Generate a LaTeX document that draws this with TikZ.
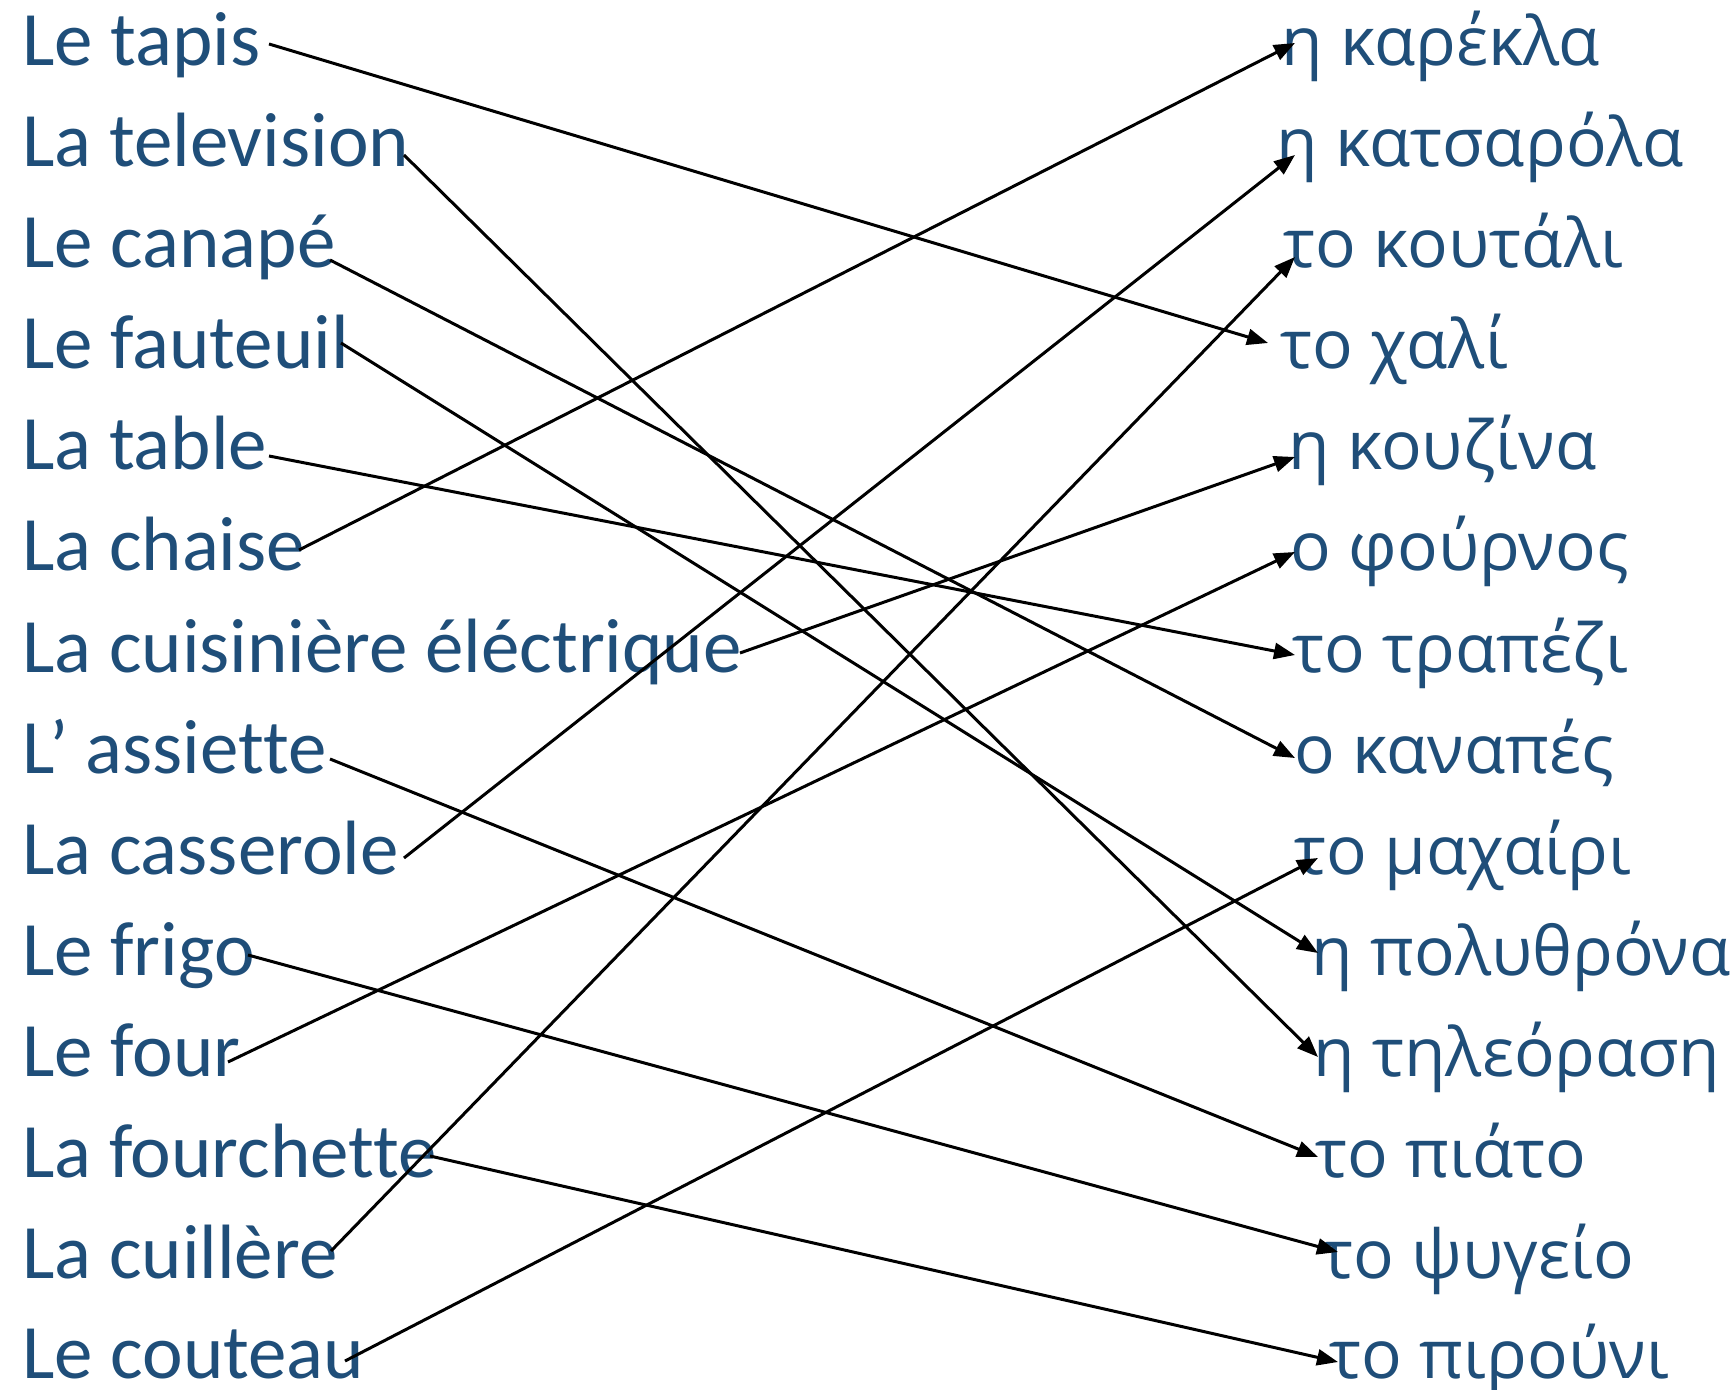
\documentclass[tikz,border=0pt]{standalone}
\usepackage{fontspec}
\setmainfont{Carlito}[Ligatures=NoCommon]
\newfontfamily\grk{Open Sans}
\usetikzlibrary{arrows.meta}
\definecolor{txtblue}{RGB}{31,78,121}
\begin{document}
\begin{tikzpicture}[x=0.5pt,y=-0.5pt,
  fr/.style={anchor=base west,inner sep=0pt,text=txtblue,font=\fontsize{38.5pt}{40pt}\selectfont},
  gr/.style={anchor=base west,inner sep=0pt,text=txtblue,font=\grk\fontsize{33.8pt}{40pt}\selectfont},
  arr/.style={draw=black,line width=1.5pt,-{Triangle[length=10.5pt,width=8pt]}}]
\useasboundingbox (0,0) rectangle (1736,1390);
% left column
\node[fr] (l1)  at (22,66)   {Le tapis};
\node[fr] (l2)  at (22,167)  {La television};
\node[fr] (l3)  at (22,268)  {Le canapé};
\node[fr] (l4)  at (22,369)  {Le fauteuil};
\node[fr] (l5)  at (22,470)  {La table};
\node[fr] (l6)  at (22,571)  {La chaise};
\node[fr] (l7)  at (22,672)  {La cuisinière éléctrique};
\node[fr] (l8)  at (22,773)  {L’ assiette};
\node[fr] (l9)  at (22,874)  {La casserole};
\node[fr] (l10) at (22,975)  {Le frigo};
\node[fr] (l11) at (22,1076) {Le four};
\node[fr] (l12) at (22,1177) {La fourchette};
\node[fr] (l13) at (22,1278) {La cuillère};
\node[fr] (l14) at (22,1378) {Le couteau};
% right column
\node[gr] (r1)  at (1281,66)   {η καρέκλα};
\node[gr] (r2)  at (1276,167)  {η κατσαρόλα};
\node[gr] (r3)  at (1283,268)  {το κουτάλι};
\node[gr] (r4)  at (1280,369)  {το χαλί};
\node[gr] (r5)  at (1288,470)  {η κουζίνα};
\node[gr] (r6)  at (1290,571)  {ο φούρνος};
\node[gr] (r7)  at (1292,672)  {το τραπέζι};
\node[gr] (r8)  at (1294,773)  {ο καναπές};
\node[gr] (r9)  at (1294,874)  {το μαχαίρι};
\node[gr] (r10) at (1311,975)  {η πολυθρόνα};
\node[gr] (r11) at (1313,1076) {η τηλεόραση};
\node[gr] (r12) at (1315,1177) {το πιάτο};
\node[gr] (r13) at (1321,1278) {το ψυγείο};
\node[gr] (r14) at (1329,1378) {το πιρούνι};
% connector ends
\coordinate (l1o)  at (269,44);
\coordinate (l2o)  at (404,155);
\coordinate (l3o)  at (330,260);
\coordinate (l4o)  at (341,343);
\coordinate (l5o)  at (269,456);
\coordinate (l6o)  at (299,550);
\coordinate (l7o)  at (740,653);
\coordinate (l8o)  at (330,759);
\coordinate (l9o)  at (404,858);
\coordinate (l10o) at (248,955);
\coordinate (l11o) at (228,1062);
\coordinate (l12o) at (430,1156);
\coordinate (l13o) at (331,1251);
\coordinate (l14o) at (345,1361);
\coordinate (r1i)  at (1295,43);
\coordinate (r2i)  at (1295,155);
\coordinate (r3i)  at (1295,257);
\coordinate (r4i)  at (1268,343);
\coordinate (r5i)  at (1295,457);
\coordinate (r6i)  at (1295,552);
\coordinate (r7i)  at (1295,655);
\coordinate (r8i)  at (1295,758);
\coordinate (r9i)  at (1318,858);
\coordinate (r10i) at (1318,953);
\coordinate (r11i) at (1318,1057);
\coordinate (r12i) at (1318,1157);
\coordinate (r13i) at (1338,1252);
\coordinate (r14i) at (1338,1362);
% connectors
\draw[arr] (l1o)  -- (r4i);
\draw[arr] (l2o)  -- (r11i);
\draw[arr] (l3o)  -- (r8i);
\draw[arr] (l4o)  -- (r10i);
\draw[arr] (l5o)  -- (r7i);
\draw[arr] (l6o)  -- (r1i);
\draw[arr] (l7o)  -- (r5i);
\draw[arr] (l8o)  -- (r12i);
\draw[arr] (l9o)  -- (r2i);
\draw[arr] (l10o) -- (r13i);
\draw[arr] (l11o) -- (r6i);
\draw[arr] (l12o) -- (r14i);
\draw[arr] (l13o) -- (r3i);
\draw[arr] (l14o) -- (r9i);
\end{tikzpicture}
\end{document}
